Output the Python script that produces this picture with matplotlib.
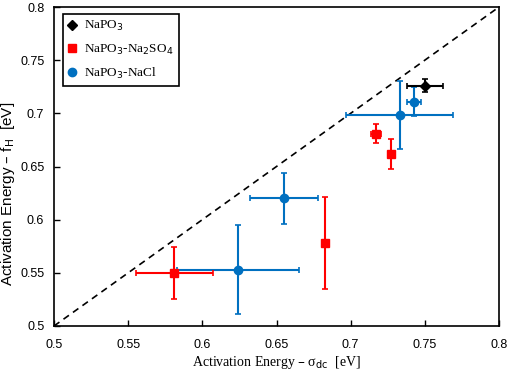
import matplotlib
matplotlib.use("Agg")
import matplotlib.pyplot as plt
from matplotlib.lines import Line2D

# Activation energies: sigma_dc (x) vs f_H (y), in eV
napo3_x = [0.750]
napo3_y = [0.726]
napo3_xerr = [0.012]
napo3_yerr = [0.006]

na2so4_x = [0.717, 0.727, 0.683, 0.581]
na2so4_y = [0.681, 0.662, 0.578, 0.550]
na2so4_xerr = [0.0036, 0.002, 0.002, 0.026]
na2so4_yerr = [0.0085, 0.014, 0.043, 0.0245]

nacl_x = [0.733, 0.743, 0.655, 0.624]
nacl_y = [0.698, 0.711, 0.620, 0.553]
nacl_xerr = [0.036, 0.0047, 0.023, 0.041]
nacl_yerr = [0.032, 0.0134, 0.024, 0.042]

ticks = [0.5, 0.55, 0.6, 0.65, 0.7, 0.75, 0.8]
tick_labels = ['0.5', '0.55', '0.6', '0.65', '0.7', '0.75', '0.8']

fig = plt.figure(figsize=(5.1, 3.72), dpi=100)
ax = fig.add_axes([54/510, 1 - 326/372, 445/510, 319/372])

ax.plot([0.5, 0.8], [0.5, 0.8], color='black', linestyle=(0, (4, 3)), lw=1.2, zorder=1)

ax.errorbar(napo3_x, napo3_y, xerr=napo3_xerr, yerr=napo3_yerr, fmt='D', color='black',
            ms=5, elinewidth=1.5, capsize=2, capthick=1.2, zorder=4)
ax.errorbar(na2so4_x, na2so4_y, xerr=na2so4_xerr, yerr=na2so4_yerr, fmt='s', color='#ff0000',
            ms=6, elinewidth=1.5, capsize=2, capthick=1.2, zorder=3)
ax.errorbar(nacl_x, nacl_y, xerr=nacl_xerr, yerr=nacl_yerr, fmt='o', color='#0070c0',
            ms=6, elinewidth=1.5, capsize=2, capthick=1.2, zorder=2)

ax.set_xlim(0.5, 0.8)
ax.set_ylim(0.5, 0.8)
ax.set_xticks(ticks)
ax.set_xticklabels(tick_labels, family='Liberation Sans', fontsize=9)
ax.set_yticks(ticks)
ax.set_yticklabels(tick_labels, family='Liberation Sans', fontsize=9)
ax.tick_params(axis='x', direction='in', length=4, width=1, pad=9)
ax.tick_params(axis='y', direction='in', length=4, width=1, pad=7)
for s in ax.spines.values():
    s.set_linewidth(1.2)

ax.set_xlabel('Activation Energy – σ$_{\\rm dc}$  [eV]', family='Liberation Serif', fontsize=10)
ax.xaxis.set_label_coords(0.5, -0.088)
ax.set_ylabel('Activation Energy – f$_{\\rm H}$  [eV]', family='Liberation Sans', fontsize=11)
ax.yaxis.set_label_coords(-0.083, 0.414)

handles = [
    Line2D([], [], marker='D', color='black', ls='none', ms=5),
    Line2D([], [], marker='s', color='#ff0000', ls='none', ms=6),
    Line2D([], [], marker='o', color='#0070c0', ls='none', ms=6),
]
labels = ['NaPO$_3$', 'NaPO$_3$-Na$_2$SO$_4$', 'NaPO$_3$-NaCl']
leg = ax.legend(handles, labels, loc='upper left', prop={'family': 'Liberation Serif', 'size': 9.5},
                fancybox=False, edgecolor='black', framealpha=1, handlelength=0.6,
                handletextpad=0.6, borderpad=0.4, labelspacing=0.7, borderaxespad=0,
                bbox_to_anchor=(9/445, 1 - 7/319))
leg.get_frame().set_linewidth(1.2)

fig.savefig('out.png', dpi=100)
